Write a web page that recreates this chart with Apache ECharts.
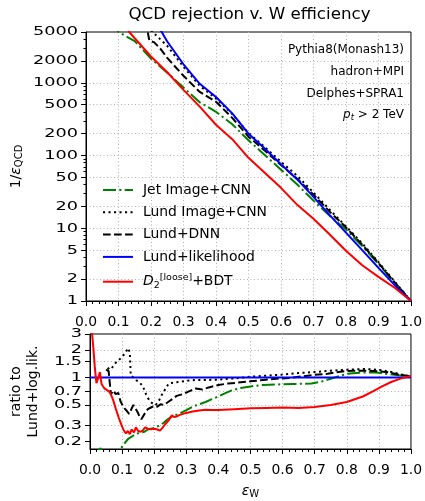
<!DOCTYPE html>
<html>
<head>
<meta charset="utf-8">
<script src="https://cdn.jsdelivr.net/npm/echarts@6.0.0/dist/echarts.min.js"></script>
<style>
  html, body { margin: 0; padding: 0; background: #fff; }
  #chart { width: 425px; height: 501px; }
</style>
</head>
<body>
<div id="chart"></div>
<script>
// ---- Rejection curves: signal efficiency vs 1/eps_QCD ----
const jetCnnEff   = [0.08, 0.10, 0.15, 0.20, 0.25, 0.30, 0.35, 0.40, 0.45, 0.50, 0.55, 0.60, 0.65, 0.70, 0.75, 0.80, 0.85, 0.90, 0.95, 1.00];
const jetCnnRej   = [7000, 5000, 3750, 2150, 1380, 860, 540, 400, 270, 162, 102, 64, 40, 24, 14.8, 9.6, 5.7, 3.2, 1.78, 1.0];

const lundCnnEff  = [0.18, 0.205, 0.25, 0.30, 0.35, 0.40, 0.45, 0.50, 0.55, 0.60, 0.65, 0.70, 0.75, 0.80, 0.85, 0.90, 0.95, 1.00];
const lundCnnRej  = [7000, 5000, 3220, 1660, 912, 608, 372, 204, 131, 82, 52.6, 31, 18, 10.6, 6.2, 3.42, 1.85, 1.0];

const lundDnnEff  = [0.17, 0.19, 0.195, 0.21, 0.23, 0.25, 0.30, 0.35, 0.40, 0.45, 0.50, 0.55, 0.60, 0.65, 0.70, 0.75, 0.80, 0.85, 0.90, 0.95, 1.00];
const lundDnnRej  = [6500, 5000, 3800, 3600, 2900, 2200, 1250, 750, 550, 330, 182, 117, 74, 48, 29, 16.9, 10.3, 5.95, 3.33, 1.8, 1.0];

const lundLikEff  = [0.20, 0.233, 0.25, 0.30, 0.35, 0.40, 0.45, 0.50, 0.55, 0.60, 0.65, 0.70, 0.75, 0.80, 0.85, 0.90, 0.95, 1.00];
const lundLikRej  = [8400, 5000, 3700, 1800, 970, 640, 380, 200, 125, 76, 47, 27, 15.2, 8.7, 5.0, 2.85, 1.65, 1.0];

const d2BdtEff    = [0.10, 0.133, 0.15, 0.20, 0.25, 0.30, 0.35, 0.40, 0.45, 0.50, 0.55, 0.60, 0.65, 0.70, 0.75, 0.80, 0.85, 0.90, 0.95, 1.00];
const d2BdtRej    = [8500, 5000, 4100, 2300, 1400, 800, 470, 265, 168, 93, 58, 36, 21, 13.5, 8.2, 4.9, 3.1, 2.15, 1.52, 1.0];

// ---- Ratios to Lund+likelihood ----
const jetCnnRatioEff = [0.02, 0.033, 0.045, 0.08, 0.095, 0.10, 0.11, 0.12, 0.13, 0.14, 0.15, 0.16, 0.17, 0.18, 0.19, 0.20, 0.21, 0.22, 0.23, 0.24, 0.25, 0.26, 0.28, 0.30, 0.32, 0.34, 0.36, 0.38, 0.40, 0.42, 0.44, 0.47, 0.50, 0.54, 0.58, 0.63, 0.69, 0.72, 0.75, 0.78, 0.81, 0.84, 0.87, 0.90, 0.93, 0.96, 1.00];
const jetCnnRatio    = [0.15, 0.168, 0.14, 0.13, 0.155, 0.175, 0.195, 0.215, 0.225, 0.24, 0.245, 0.25, 0.255, 0.27, 0.275, 0.28, 0.29, 0.305, 0.32, 0.345, 0.365, 0.38, 0.405, 0.44, 0.48, 0.51, 0.54, 0.58, 0.62, 0.67, 0.72, 0.77, 0.80, 0.83, 0.84, 0.85, 0.86, 0.90, 0.97, 1.05, 1.11, 1.13, 1.14, 1.13, 1.09, 1.06, 1.03];

const lundCnnRatioEff = [0.055, 0.062, 0.07, 0.08, 0.09, 0.10, 0.11, 0.118, 0.124, 0.127, 0.135, 0.145, 0.155, 0.165, 0.175, 0.185, 0.195, 0.205, 0.215, 0.225, 0.235, 0.245, 0.26, 0.28, 0.30, 0.33, 0.36, 0.40, 0.45, 0.50, 0.55, 0.60, 0.65, 0.70, 0.75, 0.80, 0.85, 0.88, 0.91, 0.94, 0.97, 1.00];
const lundCnnRatio    = [1.28, 1.22, 1.30, 1.45, 1.55, 1.70, 1.85, 2.10, 1.90, 1.05, 1.00, 0.93, 0.88, 0.80, 0.65, 0.56, 0.52, 0.50, 0.56, 0.66, 0.75, 0.86, 0.88, 0.90, 0.92, 0.94, 0.94, 0.95, 0.98, 1.02, 1.05, 1.08, 1.12, 1.15, 1.19, 1.22, 1.24, 1.23, 1.20, 1.15, 1.08, 1.03];

const lundDnnRatioEff = [0.05, 0.058, 0.062, 0.065, 0.072, 0.08, 0.088, 0.095, 0.105, 0.115, 0.122, 0.13, 0.135, 0.14, 0.148, 0.155, 0.16, 0.17, 0.18, 0.19, 0.20, 0.21, 0.22, 0.23, 0.25, 0.27, 0.29, 0.31, 0.33, 0.35, 0.37, 0.40, 0.43, 0.46, 0.50, 0.54, 0.58, 0.62, 0.66, 0.70, 0.74, 0.78, 0.82, 0.86, 0.90, 0.93, 0.96, 1.00];
const lundDnnRatio    = [1.22, 1.18, 0.85, 0.65, 0.72, 0.66, 0.68, 0.55, 0.47, 0.43, 0.40, 0.46, 0.50, 0.47, 0.42, 0.37, 0.35, 0.40, 0.45, 0.47, 0.49, 0.48, 0.51, 0.50, 0.56, 0.63, 0.66, 0.71, 0.76, 0.74, 0.78, 0.83, 0.86, 0.88, 0.91, 0.94, 0.97, 0.99, 1.03, 1.07, 1.10, 1.16, 1.19, 1.19, 1.17, 1.14, 1.08, 1.03];

const lundLikRatioEff = [0.0, 1.0];
const lundLikRatio    = [1.0, 1.0];

const d2BdtRatioEff = [0.005, 0.010, 0.015, 0.020, 0.026, 0.031, 0.036, 0.045, 0.055, 0.063, 0.072, 0.08, 0.09, 0.10, 0.105, 0.112, 0.118, 0.124, 0.13, 0.137, 0.143, 0.15, 0.158, 0.165, 0.172, 0.18, 0.19, 0.20, 0.21, 0.218, 0.225, 0.235, 0.245, 0.255, 0.262, 0.27, 0.28, 0.30, 0.32, 0.34, 0.36, 0.38, 0.40, 0.45, 0.50, 0.55, 0.60, 0.65, 0.70, 0.75, 0.80, 0.85, 0.88, 0.91, 0.94, 0.97, 1.00];
const d2BdtRatio    = [3.5, 2.2, 1.3, 0.87, 1.0, 1.15, 0.85, 0.76, 0.72, 0.68, 0.57, 0.46, 0.36, 0.29, 0.265, 0.245, 0.26, 0.24, 0.27, 0.25, 0.285, 0.26, 0.255, 0.265, 0.285, 0.275, 0.272, 0.275, 0.27, 0.262, 0.28, 0.31, 0.34, 0.385, 0.37, 0.375, 0.39, 0.41, 0.425, 0.435, 0.445, 0.44, 0.44, 0.45, 0.46, 0.465, 0.47, 0.465, 0.475, 0.50, 0.54, 0.62, 0.70, 0.80, 0.90, 0.98, 1.04];

// ---- Axis ticks ----
const effTickStep     = 0.1;
const rejMajorTicks   = [1, 2, 5, 10, 20, 50, 100, 200, 500, 1000, 2000, 5000];
const rejMinorTicks   = [3, 4, 6, 7, 8, 9, 30, 40, 60, 70, 80, 90, 300, 400, 600, 700, 800, 900, 3000, 4000];
const ratioTicks      = [0.2, 0.3, 0.5, 0.7, 1, 1.5, 2, 3];
const rejRange        = [1, 5000];
const ratioRange      = [0.165, 3];

const NAMES = ['Jet Image+CNN', 'Lund Image+CNN', 'Lund+DNN', 'Lund+likelihood', 'D2+BDT'];

const FONT = 'DejaVu Sans';
const LG = Math.log10;
const GRID_LINE = { color: '#b0b0b0', width: 1, type: [1, 2.5] };

const STYLES = {
  'Jet Image+CNN':   { color: '#008000', type: [13, 3.3, 2.1, 3.3] },
  'Lund Image+CNN':  { color: '#000000', type: [2.1, 3.4] },
  'Lund+DNN':        { color: '#000000', type: [7.7, 3.3] },
  'Lund+likelihood': { color: '#0000ff', type: 'solid' },
  'D2+BDT':          { color: '#ff0000', type: 'solid' }
};

function lineSeries(name, xs, ys, xi, yi) {
  const st = STYLES[name];
  return {
    type: 'line', name: name,
    xAxisIndex: xi, yAxisIndex: yi,
    data: xs.map((x, i) => [x, LG(ys[i])]),
    symbol: 'none', showSymbol: false,
    clip: true, silent: true,
    color: st.color,
    lineStyle: { color: st.color, width: 2, type: st.type, cap: 'butt' }
  };
}

// Tick labels of the log-scaled y axes, placed through the axis' own coordinates
// (the glyphs are set in a wide face, so they are stretched horizontally).
function tickLabelSeries(ticks, xi, yi) {
  return {
    type: 'custom', name: 'ticklabels-' + yi,
    xAxisIndex: xi, yAxisIndex: yi,
    silent: true, clip: false, z: 5,
    data: ticks.map(v => [0, LG(v), v]),
    renderItem: (params, api) => {
      const p = api.coord([api.value(0), api.value(1)]);
      return {
        type: 'text', x: p[0] - 8, y: p[1], scaleX: 1.36,
        style: { text: String(api.value(2)), fill: '#000', font: '13px "DejaVu Sans"',
                 align: 'right', verticalAlign: 'middle' }
      };
    }
  };
}

function effAxis(gridIndex, withName) {
  const ax = {
    type: 'value', gridIndex: gridIndex,
    min: 0, max: 1, interval: effTickStep,
    axisLine: { show: true, onZero: false, lineStyle: { color: '#000', width: 1 } },
    axisTick: { show: true, length: 5, lineStyle: { color: '#000', width: 1 } },
    minorTick: { show: true, splitNumber: 5, length: 3, lineStyle: { color: '#000', width: 1 } },
    axisLabel: { margin: 14, fontFamily: FONT, fontSize: 13.9, color: '#000',
                 formatter: v => v.toFixed(1) },
    splitLine: { show: true, showMinLine: false, showMaxLine: false, lineStyle: GRID_LINE },
    minorSplitLine: { show: false }
  };
  if (withName) {
    ax.name = '{i|ε}{s|W}';
    ax.nameLocation = 'middle';
    ax.nameGap = 34;
    ax.nameTextStyle = {
      rich: {
        i: { fontFamily: FONT, fontSize: 14, fontStyle: 'italic', color: '#000' },
        s: { fontFamily: FONT, fontSize: 10, color: '#000', padding: [6, 0, 0, 0] }
      }
    };
  }
  return ax;
}

const option = {
  animation: false,
  backgroundColor: '#fff',
  grid: [
    { left: 86, top: 32, width: 327, height: 269, show: true, borderColor: '#000', borderWidth: 1, backgroundColor: 'transparent' },
    { left: 86, top: 334, width: 327, height: 115, show: true, borderColor: '#000', borderWidth: 1, backgroundColor: 'transparent' }
  ],
  xAxis: [effAxis(0, false), effAxis(1, true)],
  yAxis: [
    {
      type: 'value', gridIndex: 0, position: 'left',
      min: LG(rejRange[0]), max: LG(rejRange[1]),
      axisLine: { show: true, onZero: false, lineStyle: { color: '#000', width: 1 } },
      axisTick: { show: true, length: 5, customValues: rejMajorTicks.map(LG), lineStyle: { color: '#000' } },
      axisLabel: { show: false, customValues: rejMajorTicks.map(LG) },
      splitLine: { show: true, showMinLine: false, showMaxLine: false, lineStyle: GRID_LINE },
      name: '1/{i|ε}{s|QCD}',
      nameLocation: 'middle', nameGap: 62, nameRotate: 90,
      nameTextStyle: {
        fontFamily: FONT, fontSize: 14, color: '#000',
        rich: {
          i: { fontFamily: FONT, fontSize: 14, fontStyle: 'italic', color: '#000' },
          s: { fontFamily: FONT, fontSize: 10, color: '#000', padding: [6, 0, 0, 0] }
        }
      }
    },
    {
      type: 'value', gridIndex: 0, position: 'left',
      min: LG(rejRange[0]), max: LG(rejRange[1]),
      axisLine: { show: false },
      axisTick: { show: true, length: 2.5, customValues: rejMinorTicks.map(LG), lineStyle: { color: '#000' } },
      axisLabel: { show: false },
      splitLine: { show: false }
    },
    {
      type: 'value', gridIndex: 1, position: 'left',
      min: LG(ratioRange[0]), max: LG(ratioRange[1]),
      axisLine: { show: true, onZero: false, lineStyle: { color: '#000', width: 1 } },
      axisTick: { show: true, length: 5, customValues: ratioTicks.map(LG), lineStyle: { color: '#000' } },
      axisLabel: { show: false, customValues: ratioTicks.map(LG) },
      splitLine: { show: true, showMinLine: false, showMaxLine: false, lineStyle: GRID_LINE },
      name: 'ratio to\nLund+log.lik.',
      nameLocation: 'middle', nameGap: 48, nameRotate: 90,
      nameTextStyle: { fontFamily: FONT, fontSize: 14, color: '#000', lineHeight: 17 }
    }
  ],
  legend: {
    data: NAMES,
    orient: 'vertical',
    left: 97, top: 178,
    itemWidth: 30, itemHeight: 14, itemGap: 8.3,
    selectedMode: false,
    itemStyle: { opacity: 0 },
    textStyle: {
      fontFamily: FONT, fontSize: 13.9, color: '#000', padding: [0, 0, 0, 5],
      rich: {
        it:  { fontFamily: FONT, fontSize: 13.9, fontStyle: 'italic', color: '#000' },
        sub: { fontFamily: FONT, fontSize: 9.5, color: '#000', padding: [7, 0, 0, 0] },
        sup: { fontFamily: FONT, fontSize: 9.5, color: '#000', padding: [0, 0, 9, 0] },
        n:   { fontFamily: FONT, fontSize: 13.9, color: '#000' }
      }
    },
    formatter: name => name === 'D2+BDT' ? '{it|D}{sub|2}{sup|[loose]}{n|+BDT}' : name
  },
  graphic: [
    { type: 'text', x: 249.5, y: 15, silent: true,
      style: { text: 'QCD rejection v. W efficiency', fill: '#000', font: '16.7px "DejaVu Sans"',
               align: 'center', verticalAlign: 'middle' } },
    { type: 'text', x: 404, y: 50, silent: true,
      style: { text: 'Pythia8(Monash13)', fill: '#000', font: '12px "DejaVu Sans"', align: 'right', verticalAlign: 'middle' } },
    { type: 'text', x: 404, y: 72, silent: true,
      style: { text: 'hadron+MPI', fill: '#000', font: '12px "DejaVu Sans"', align: 'right', verticalAlign: 'middle' } },
    { type: 'text', x: 404, y: 94, silent: true,
      style: { text: 'Delphes+SPRA1', fill: '#000', font: '12px "DejaVu Sans"', align: 'right', verticalAlign: 'middle' } },
    { type: 'text', x: 404, y: 115, silent: true,
      style: { text: '{i|p}{s|t}{n| > 2 TeV}', fill: '#000', font: '12px "DejaVu Sans"', align: 'right', verticalAlign: 'middle',
               rich: {
                 i: { fontFamily: FONT, fontSize: 12, fontStyle: 'italic', fill: '#000' },
                 s: { fontFamily: FONT, fontSize: 8.5, fontStyle: 'italic', fill: '#000', padding: [5, 0, 0, 0] },
                 n: { fontFamily: FONT, fontSize: 12, fill: '#000' }
               } } }
  ],
  series: [
    lineSeries('Jet Image+CNN',   jetCnnEff,  jetCnnRej,  0, 0),
    lineSeries('Lund Image+CNN',  lundCnnEff, lundCnnRej, 0, 0),
    lineSeries('Lund+DNN',        lundDnnEff, lundDnnRej, 0, 0),
    lineSeries('Lund+likelihood', lundLikEff, lundLikRej, 0, 0),
    lineSeries('D2+BDT',          d2BdtEff,   d2BdtRej,   0, 0),
    lineSeries('Jet Image+CNN',   jetCnnRatioEff,  jetCnnRatio,  1, 2),
    lineSeries('Lund Image+CNN',  lundCnnRatioEff, lundCnnRatio, 1, 2),
    lineSeries('Lund+DNN',        lundDnnRatioEff, lundDnnRatio, 1, 2),
    lineSeries('Lund+likelihood', lundLikRatioEff, lundLikRatio, 1, 2),
    lineSeries('D2+BDT',          d2BdtRatioEff,   d2BdtRatio,   1, 2),
    tickLabelSeries(rejMajorTicks, 0, 0),
    tickLabelSeries(ratioTicks, 1, 2)
  ]
};

const chart = echarts.init(document.getElementById('chart'), null, { renderer: 'canvas' });
chart.setOption(option);
</script>
</body>
</html>
